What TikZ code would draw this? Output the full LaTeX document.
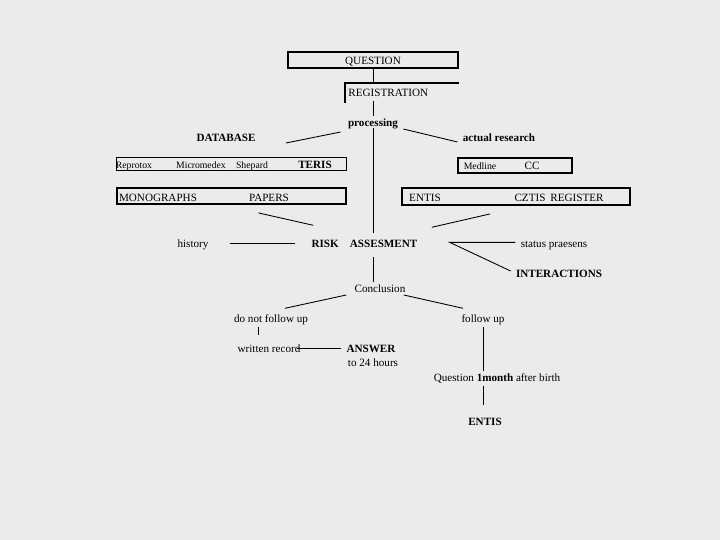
\documentclass[tikz,border=0pt]{standalone}
\usepackage{fontspec}
\setmainfont{Liberation Serif}
\definecolor{paleback}{RGB}{235,235,235}
\usetikzlibrary{positioning}

\begin{document}
\begin{tikzpicture}[x=0.03cm,y=-0.03cm,
    every node/.style={font=\fontsize{9.5}{11}\selectfont,inner sep=1pt,text height=1.6ex,text depth=0pt},
    frame/.style={draw,line width=1.6pt,inner sep=0pt},
    heavy/.style={font=\fontsize{9.5}{11}\selectfont\bfseries},
    small/.style={font=\fontsize{8.3}{10}\selectfont},
    link/.style={line width=0.75pt}]
    \fill[paleback] (0,0) rectangle (720,540);

    % top of the chart
    \node[frame,minimum width=5.1cm,minimum height=0.48cm] (question) at (373,60) {QUESTION};
    \node[anchor=west] (registration) at (347,92) {REGISTRATION};
    \coordinate (regtop) at ([shift={(-2,-3)}]registration.north west);
    \draw[line width=1.6pt] ([shift={(-2,5)}]registration.south west) -- (regtop) -- (regtop -| question.east);
    \draw[link] (question.south) -- (question.south |- regtop);
    \node[heavy] (processing) at (373,122) {processing};
    \draw[link] ([shift={(0,3)}]registration.south -| question.south) -- (processing.north -| question.south);

    \node[heavy] (database) at (226,137) {DATABASE};
    \node[heavy] (research) at (499,137) {actual research};
    \draw[link] ([shift={(-6,10)}]processing.west) -- ([shift={(29,6)}]database.east);
    \draw[link] ([shift={(4,7)}]processing.east) -- ([shift={(-4,5)}]research.west);

    % sources
    \node[frame,minimum width=6.9cm,minimum height=0.39cm] (toolbox) at (231.5,164) {};
    \node[small] (reprotox) at (134,164) {Reprotox};
    \node[small] (micromedex) at (201,164) {Micromedex};
    \node[small] (shepard) at (252,164) {Shepard};
    \node[heavy] (teris) at (315,164) {TERIS};
    \node[frame,minimum width=6.87cm,minimum height=0.48cm] (monobox) at (231.5,196) {};
    \node (monographs) at (158,197) {MONOGRAPHS};
    \node (papers) at (269,197) {PAPERS};
    \node[frame,minimum width=3.42cm,minimum height=0.45cm] (medbox) at (515,165.5) {};
    \node[small] (medline) at (480,165) {Medline};
    \node (cc) at (532,165) {CC};
    \node[frame,minimum width=6.84cm,minimum height=0.51cm] (entisbox) at (516,196.5) {};
    \node (entis) at (425,197) {ENTIS};
    \node (cztis) at (530,197) {CZTIS};
    \node (register) at (577,197) {REGISTER};

    % assessment
    \node[heavy] (risk) at (364.5,243) {RISK\hspace{1em}ASSESMENT};
    \draw[link,shorten >=4pt] (processing.south) -- (processing.south |- risk.north);
    \draw[link] ([shift={(27,8)}]monobox.south) -- ([shift={(3,-12)}]risk.north west);
    \draw[link] ([shift={(-26,8)}]entisbox.south) -- ([shift={(13,-10)}]risk.north east);
    \node (history) at (193,243) {history};
    \draw[link] ([shift={(20,0)}]history.east) -- ([shift={(-15,0)}]risk.west);
    \node (status) at (554,243) {status praesens};
    \node[heavy] (interactions) at (559,273) {INTERACTIONS};
    \draw[link] ([shift={(-4,-0.6)}]status.west) -- ([shift={(31,-0.6)}]risk.east) -- ([shift={(-4,-2)}]interactions.west);

    % outcome
    \node (conclusion) at (380,288) {Conclusion};
    \draw[link,shorten >=7pt] (conclusion.north -| processing.south) -- (risk.south -| processing.south);
    \node (nofollow) at (271,318) {do not follow up};
    \node (follow) at (483,318) {follow up};
    \draw[link] ([shift={(-7,7)}]conclusion.west) -- ([shift={(14,-4)}]nofollow.north);
    \draw[link] ([shift={(-3,7)}]conclusion.east) -- ([shift={(-20,-4)}]follow.north);
    \node (written) at (269,348) {written record};
    \draw[link] ([shift={(-13,3)}]nofollow.south) -- ([shift={(-11,-7)}]written.north);
    \node[heavy] (answer) at (371,348) {ANSWER};
    \node (hours) at (373,362) {to 24 hours};
    \draw[link] ([shift={(-5,0)}]written.east) -- ([shift={(-4,0)}]answer.west);
    \node (birth) at (497,377) {Question \textbf{1month} after birth};
    \draw[link] ([shift={(0,3)}]follow.south) -- (follow.south |- birth.north);
    \node[heavy] (entisend) at (485,421) {ENTIS};
    \draw[link,shorten >=9pt] ([shift={(0,3)}]birth.south -| follow.south) -- (entisend.north -| follow.south);
\end{tikzpicture}
\end{document}
